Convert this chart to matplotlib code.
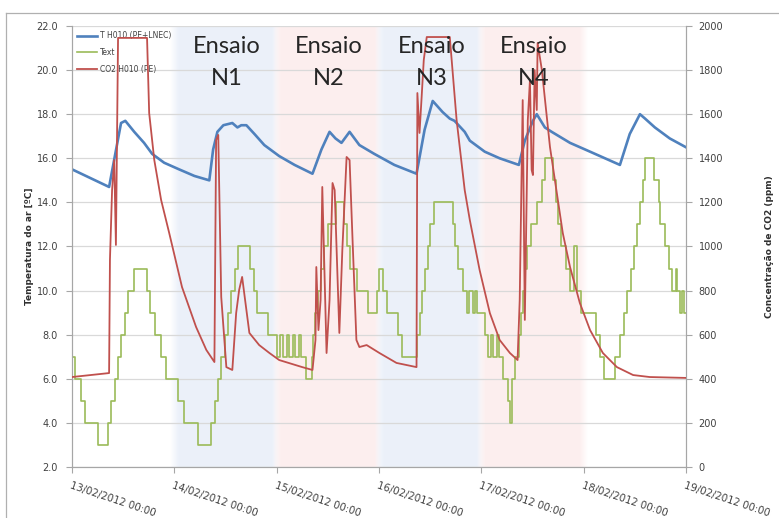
import numpy as np
import matplotlib
matplotlib.use("Agg")
import matplotlib.pyplot as plt
from matplotlib.lines import Line2D

# Time axis: hours since 13/02/2012 00:00
tick_labels = ["13/02/2012 00:00", "14/02/2012 00:00", "15/02/2012 00:00",
               "16/02/2012 00:00", "17/02/2012 00:00", "18/02/2012 00:00",
               "19/02/2012 00:00"]

# Indoor air temperature, T H010 (PE+LNEC) [ºC]
t_hours = [0.0, 8.7, 11.5, 12.5, 14.6, 16.9, 18.8, 21.6, 25.1, 28.7,
           32.2, 33.1, 34.1, 35.5, 37.6, 38.8, 39.7, 40.9, 42.8, 45.1,
           48.6, 52.2, 56.4, 58.5, 60.4, 61.8, 63.2, 65.1, 67.4, 70.9,
           75.6, 80.8, 82.7, 84.6, 86.9, 88.6, 89.7, 92.1, 93.3, 96.8,
           100.3, 104.8, 106.2, 108.1, 109.0, 110.9, 112.5, 116.8, 121.5, 125.0,
           128.5, 130.8, 133.2, 134.4, 136.7, 140.2, 144.0]
t_degc = [15.5, 14.7, 17.6, 17.7, 17.2, 16.7, 16.2, 15.8, 15.5, 15.2,
          15.0, 16.4, 17.2, 17.5, 17.6, 17.4, 17.5, 17.5, 17.1, 16.6,
          16.1, 15.7, 15.3, 16.4, 17.2, 16.9, 16.7, 17.2, 16.6, 16.2,
          15.7, 15.3, 17.3, 18.6, 18.1, 17.8, 17.7, 17.2, 16.8, 16.3,
          16.0, 15.7, 16.8, 17.7, 18.0, 17.4, 17.2, 16.7, 16.3, 16.0,
          15.7, 17.1, 18.0, 17.8, 17.4, 16.9, 16.5]

# Outdoor temperature, Text [ºC] (value holds from each time to the next)
text_hours = [0.0, 0.6, 2.0, 3.0, 6.0, 8.5, 9.2, 10.0, 10.8, 11.6,
              12.4, 13.2, 14.6, 17.5, 18.3, 19.4, 20.8, 22.0, 24.8, 26.2,
              29.5, 32.5, 33.5, 34.3, 35.0, 35.8, 36.6, 37.4, 38.2, 39.0,
              41.8, 42.6, 43.3, 46.0, 48.0, 48.8, 49.6, 50.4, 51.0, 51.8,
              52.4, 53.2, 53.8, 54.8, 56.2, 56.6, 57.0, 57.6, 58.3, 59.0,
              60.0, 62.0, 63.9, 64.4, 65.2, 66.8, 69.5, 71.6, 72.0, 72.9,
              73.8, 76.5, 77.3, 81.0, 81.5, 82.0, 82.7, 83.4, 84.0, 84.8,
              89.3, 89.8, 90.5, 91.6, 92.6, 93.2, 94.0, 94.6, 95.0, 96.8,
              97.6, 98.2, 98.8, 99.6, 100.2, 101.0, 102.2, 102.7, 103.3, 103.8,
              104.8, 105.3, 105.8, 106.3, 106.8, 107.6, 109.0, 110.2, 111.0, 112.8,
              113.4, 114.0, 114.8, 115.8, 116.8, 117.8, 118.4, 119.3, 123.0, 123.9,
              124.8, 127.4, 128.6, 129.4, 130.2, 131.0, 131.8, 132.6, 133.2, 133.8,
              134.4, 136.4, 137.6, 138.0, 139.0, 140.0, 140.8, 141.6, 142.0, 142.6,
              143.0, 143.5, 144.0]
text_degc = [7, 6, 5, 4, 3, 4, 5, 6, 7, 8,
             9, 10, 11, 10, 9, 8, 7, 6, 5, 4,
             3, 4, 5, 6, 7, 8, 9, 10, 11, 12,
             11, 10, 9, 8, 7, 8, 7, 8, 7, 8,
             7, 8, 7, 6, 7, 8, 9, 10, 11, 12,
             13, 14, 13, 12, 11, 10, 9, 10, 11, 10,
             9, 8, 7, 8, 9, 10, 11, 12, 13, 14,
             13, 12, 11, 10, 9, 10, 9, 10, 9, 8,
             7, 8, 7, 8, 7, 6, 5, 4, 6, 7,
             8, 9, 10, 11, 12, 13, 14, 15, 16, 15,
             14, 13, 12, 11, 10, 12, 10, 9, 8, 7,
             6, 7, 8, 9, 10, 11, 12, 13, 14, 15,
             16, 15, 14, 13, 12, 11, 10, 11, 10, 9,
             10, 9, 9]

# CO2 concentration, CO2 H010 (PE) [ppm]
co2_hours = [0.0, 8.7, 8.9, 9.4, 9.9, 10.3, 10.8, 17.6, 18.1, 19.3,
             20.9, 22.8, 25.8, 29.1, 31.5, 33.4, 33.8, 34.3, 35.0, 36.2,
             37.6, 38.5, 39.2, 39.9, 40.6, 41.6, 43.9, 46.3, 48.6, 54.0,
             56.4, 57.1, 57.3, 57.8, 58.3, 58.7, 59.7, 60.4, 61.1, 61.6,
             62.7, 63.4, 64.4, 65.1, 65.8, 66.7, 67.4, 69.1, 72.1, 76.1,
             80.8, 81.0, 81.5, 82.0, 82.5, 83.2, 88.6, 90.2, 92.1, 93.3,
             95.6, 98.0, 100.3, 102.7, 104.5, 105.0, 105.7, 106.2, 106.9, 107.4,
             107.8, 108.1, 108.5, 109.0, 109.2, 110.2, 112.1, 113.7, 115.1, 116.8,
             119.1, 121.5, 124.5, 127.8, 131.6, 135.5, 144.0]
co2_ppm = [408, 426, 940, 1256, 1392, 1007, 1946, 1946, 1605, 1392,
           1211, 1061, 816, 635, 531, 476, 1483, 1506, 771, 453,
           440, 698, 803, 862, 757, 608, 553, 517, 485, 453,
           440, 576, 907, 621, 757, 1270, 517, 757, 1288, 1256,
           608, 984, 1406, 1392, 1029, 576, 544, 553, 517, 472,
           453, 1696, 1515, 1678, 1846, 1950, 1950, 1574, 1256, 1120,
           893, 698, 576, 517, 485, 757, 1664, 667, 1574, 1755,
           1347, 1324, 1800, 1619, 1923, 1800, 1451, 1243, 1061, 907,
           744, 621, 517, 453, 417, 408, 404]

# Test periods (start, end in hours) and their names
test_names = ["N1", "N2", "N3", "N4"]
test_start = [24, 48, 72, 96]
test_end = [48, 72, 96, 120]

BLUE = "#4F81BD"
GREEN = "#9BBB59"
RED = "#C0504D"
GRID = "#D9D9D9"
AXC = "#A6A6A6"
TXT = "#404040"

W, H = 779, 518
fig = plt.figure(figsize=(W / 100, H / 100), dpi=100)
fig.patch.set_facecolor("white")

# outer chart border (top and left edges)
fig.add_artist(Line2D([6 / W, 1.0], [1 - 13 / H, 1 - 13 / H], color="#B0B0B0", lw=0.9))
fig.add_artist(Line2D([6 / W, 6 / W], [0.0, 1 - 13 / H], color="#B0B0B0", lw=0.9))

x0, x1, yt, yb = 72, 686, 26, 467
ax = fig.add_axes([x0 / W, 1 - yb / H, (x1 - x0) / W, (yb - yt) / H])
ax2 = ax.twinx()

ax.set_xlim(0, 144)
ax.set_ylim(2, 22)
ax2.set_ylim(0, 2000)

# soft shaded background for the test periods
band_cols = [np.array([0.925, 0.945, 0.980]), np.array([0.990, 0.935, 0.935])]
xs = np.linspace(0, 144, 1441)
rgb = np.ones((1, xs.size, 3))
ramp = 2.0
for i, (a, b) in enumerate(zip(test_start, test_end)):
    w = np.clip((xs - a) / ramp + 0.5, 0, 1) * np.clip((b - xs) / ramp + 0.5, 0, 1)
    c = band_cols[i % 2]
    rgb[0] = rgb[0] * (1 - w[:, None]) + c[None, :] * w[:, None]
ax.imshow(rgb, extent=(0, 144, 2, 22), aspect="auto", zorder=0,
          interpolation="bilinear")

ax.set_axisbelow(True)
ax.yaxis.grid(True, color=GRID, lw=0.9)
ax.set_yticks(np.arange(2, 23, 2))
ax.set_yticklabels([f"{v:.1f}" for v in np.arange(2, 23, 2)])
ax2.set_yticks(np.arange(0, 2001, 200))
ax.set_xticks(np.arange(0, 145, 24))
ax.set_xticklabels(tick_labels, rotation=-18.5, ha="left", va="top",
                   rotation_mode="anchor")

for a in (ax, ax2):
    for s in a.spines.values():
        s.set_color(AXC)
        s.set_linewidth(0.8)
    a.spines["top"].set_visible(False)
    a.tick_params(colors=AXC, labelcolor=TXT, labelsize=7, length=4, width=0.8)
ax.tick_params(axis="x", labelsize=7.3, pad=6)
ax.tick_params(axis="y", pad=6)
ax2.tick_params(axis="y", pad=5)

ax.set_ylabel("Temperatura do ar [ºC]", fontsize=6.5, fontweight="bold",
              color="#303030", labelpad=2)
ax2.set_ylabel("Concentração de CO2 (ppm)", fontsize=6.5, fontweight="bold",
               color="#303030", labelpad=30)

l_text, = ax.step(text_hours, text_degc, where="post", color=GREEN, lw=1.2, zorder=2)
l_t, = ax.plot(t_hours, t_degc, color=BLUE, lw=1.9, zorder=3)
l_co2, = ax2.plot(co2_hours, co2_ppm, color=RED, lw=1.3, zorder=3)

leg = ax.legend([l_t, l_text, l_co2], ["T H010 (PE+LNEC)", "Text", "CO2 H010 (PE)"],
                loc="upper left", bbox_to_anchor=(0.0, 1.0), frameon=False,
                fontsize=5.5, handlelength=2.6, handletextpad=0.3,
                labelspacing=1.0, borderaxespad=0.3)
for t in leg.get_texts():
    t.set_color(TXT)
leg.set_zorder(4)

for name, a, b in zip(test_names, test_start, test_end):
    xc = (a + b) / 2 + 0.3
    ax2.text(xc, 0.954, "Ensaio", transform=ax2.get_xaxis_transform(),
             ha="center", va="center", fontsize=17, family="Lato",
             color="#262626", zorder=6)
    ax2.text(xc, 0.882, name, transform=ax2.get_xaxis_transform(),
             ha="center", va="center", fontsize=17, family="Lato",
             color="#262626", zorder=6)

fig.savefig("out.png", dpi=100)
